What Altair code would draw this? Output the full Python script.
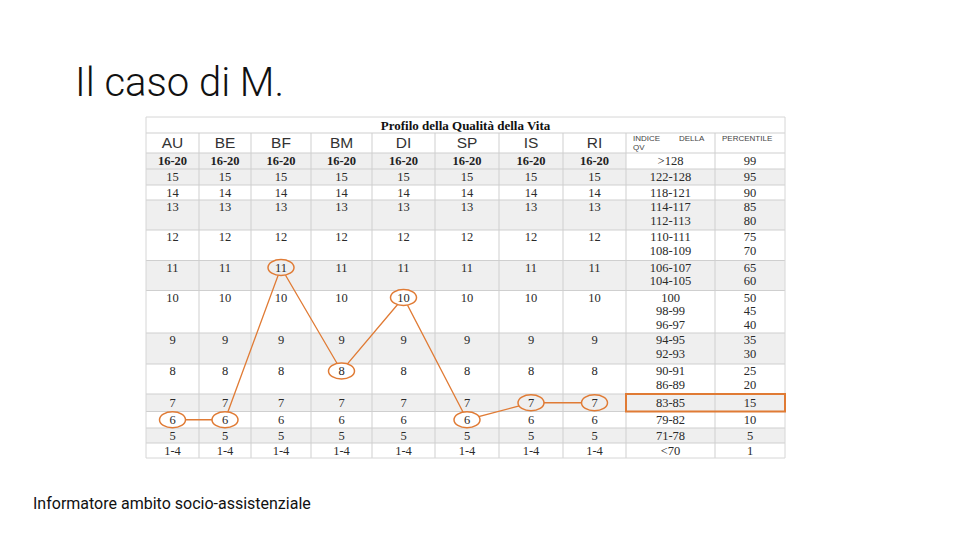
import altair as alt
import pandas as pd

# ---------------- data ----------------
dims = ["AU", "BE", "BF", "BM", "DI", "SP", "IS", "RI"]
score_labels = ["16-20", "15", "14", "13", "12", "11", "10", "9", "8", "7", "6", "5", "1-4"]
indice = [[">128"], ["122-128"], ["118-121"], ["114-117", "112-113"], ["110-111", "108-109"],
          ["106-107", "104-105"], ["100", "98-99", "96-97"], ["94-95", "92-93"], ["90-91", "86-89"],
          ["83-85"], ["79-82"], ["71-78"], ["<70"]]
percentile = [["99"], ["95"], ["90"], ["85", "80"], ["75", "70"], ["65", "60"], ["50", "45", "40"],
              ["35", "30"], ["25", "20"], ["15"], ["10"], ["5"], ["1"]]
profile_m = ["6", "6", "11", "8", "10", "6", "7", "7"]
highlight_row = "7"

slide_title = "Il caso di M."
table_title = "Profilo della Qualità della Vita"
footer_text = "Informatore ambito socio-assistenziale"
head_indice = ["INDICE", "DELLA", "QV"]
head_percentile = "PERCENTILE"

# ---------------- layout ----------------
col_edges = [146, 199, 251, 311, 372, 435, 499, 563, 626, 715, 785]
table_top, title_bottom, header_bottom = 117, 133, 153
row_heights = [16, 16, 15, 30, 30.5, 30, 42.5, 31, 30, 17.5, 16.5, 15, 15]
grey_rows = [True, True, False, True, False, True, False, True, False, True, False, True, False]
GREY, WHITE, GRID, ORANGE = "#efefef", "#ffffff", "#cfcfcf", "#e07b35"

row_tops = []
t = header_bottom
for h in row_heights:
    row_tops.append(t)
    t += h
table_bottom = t


def line_y(i, k, n):
    top, h = row_tops[i], row_heights[i]
    return top + h / 2 if n == 1 else top + 7 + 13.5 * k


col_center = [(col_edges[j] + col_edges[j + 1]) / 2 for j in range(len(col_edges) - 1)]

# backgrounds
bg = []
for i, h in enumerate(row_heights):
    if grey_rows[i]:
        right = col_edges[8] if i == 0 else col_edges[10]
        bg.append(dict(x=col_edges[0], x2=right, y=row_tops[i], y2=row_tops[i] + h, fill=GREY))
bg_df = pd.DataFrame(bg)

# grid lines
hl = [dict(x=col_edges[0], x2=col_edges[-1], y=v, y2=v) for v in [title_bottom, header_bottom] + row_tops[1:]]
vl = [dict(x=e, x2=e, y=title_bottom, y2=table_bottom) for e in col_edges[1:-1]]
grid_df = pd.DataFrame(hl + vl)
border_df = pd.DataFrame([dict(x=col_edges[0], x2=col_edges[-1], y=table_top, y2=table_bottom)])

# texts
num_rows = []
for i, lab in enumerate(score_labels):
    nl = 1 if row_heights[i] < 20 else 2
    for j in range(len(dims)):
        num_rows.append(dict(x=col_center[j], y=line_y(i, 0, nl), t=lab, b=(i == 0)))
    n = len(indice[i])
    for k in range(n):
        num_rows.append(dict(x=col_center[8], y=line_y(i, k, n), t=indice[i][k], b=False))
        num_rows.append(dict(x=col_center[9], y=line_y(i, k, n), t=percentile[i][k], b=False))
num_df = pd.DataFrame(num_rows)
num_plain = num_df[~num_df.b].drop(columns="b")
num_bold = num_df[num_df.b].drop(columns="b")

head_df = pd.DataFrame([dict(x=col_center[j], y=(title_bottom + header_bottom) / 2, t=d) for j, d in enumerate(dims)])
small_df = pd.DataFrame([
    dict(x=col_edges[8] + 7, y=139, t=head_indice[0]),
    dict(x=col_edges[8] + 53, y=139, t=head_indice[1]),
    dict(x=col_edges[8] + 7, y=148, t=head_indice[2]),
    dict(x=col_edges[9] + 7, y=139, t=head_percentile),
])
ttl_df = pd.DataFrame([dict(x=(col_edges[0] + col_edges[-1]) / 2, y=(table_top + title_bottom) / 2 + 1, t=table_title)])

# profile of M.
prof = []
for j, v in enumerate(profile_m):
    i = score_labels.index(v)
    nl = 1 if row_heights[i] < 20 else 2
    prof.append(dict(x=col_center[j], y=line_y(i, 0, nl), o=j, t=v,
                     fill=GREY if grey_rows[i] else WHITE))
prof_df = pd.DataFrame(prof)
hi = score_labels.index(highlight_row)
hbox_df = pd.DataFrame([dict(x=col_edges[8], x2=col_edges[10], y=row_tops[hi], y2=row_tops[hi] + row_heights[hi])])

slide_df = pd.DataFrame([dict(x=75, y=96, t=slide_title)])
foot_df = pd.DataFrame([dict(x=33, y=509, t=footer_text)])

# ---------------- chart ----------------
xs = alt.Scale(domain=[8, 952], nice=False, zero=False)
ys = alt.Scale(domain=[8, 532], nice=False, zero=False, reverse=True)
X = alt.X("x:Q", scale=xs, axis=None)
Y = alt.Y("y:Q", scale=ys, axis=None)

bg_layer = alt.Chart(bg_df).mark_rect().encode(X, alt.X2("x2:Q"), Y, alt.Y2("y2:Q"),
                                               fill=alt.Fill("fill:N", scale=None))
grid_layer = alt.Chart(grid_df).mark_rule(color=GRID, strokeWidth=1).encode(X, alt.X2("x2:Q"), Y, alt.Y2("y2:Q"))
border_layer = alt.Chart(border_df).mark_rect(fill=None, stroke="#d6d6d6", strokeWidth=1).encode(
    X, alt.X2("x2:Q"), Y, alt.Y2("y2:Q"))

num_layer = alt.Chart(num_plain).mark_text(font="Liberation Serif", fontSize=12.5, color="#2a2a2a",
                                           baseline="middle").encode(X, Y, text="t:N")
numb_layer = alt.Chart(num_bold).mark_text(font="Liberation Serif", fontSize=12.5, color="#222",
                                           fontWeight="bold", baseline="middle").encode(X, Y, text="t:N")
head_layer = alt.Chart(head_df).mark_text(font="Liberation Sans", fontSize=15.5, color="#333",
                                          baseline="middle").encode(X, Y, text="t:N")
small_layer = alt.Chart(small_df).mark_text(font="Liberation Sans", fontSize=8, color="#444",
                                            baseline="middle", align="left").encode(X, Y, text="t:N")
ttl_layer = alt.Chart(ttl_df).mark_text(font="Liberation Serif", fontSize=13, fontWeight="bold", color="#111",
                                        baseline="middle").encode(X, Y, text="t:N")

line_layer = alt.Chart(prof_df).mark_line(color=ORANGE, strokeWidth=1.3).encode(X, Y, order="o:Q")
ell_layer = alt.Chart(prof_df).mark_point(
    shape="M-1,0A1,0.62,0,1,1,1,0A1,0.62,0,1,1,-1,0Z", size=26 * 26, filled=True,
    stroke=ORANGE, strokeWidth=1.5, opacity=1).encode(X, Y, fill=alt.Fill("fill:N", scale=None))
prof_text = alt.Chart(prof_df).mark_text(
    font="Liberation Serif", fontSize=12.5, color="#2a2a2a", baseline="middle").encode(X, Y, text="t:N")
hbox_layer = alt.Chart(hbox_df).mark_rect(fill=None, stroke=ORANGE, strokeWidth=2).encode(
    X, alt.X2("x2:Q"), Y, alt.Y2("y2:Q"))

slide_layer = alt.Chart(slide_df).mark_text(font="Roboto", fontSize=40, fontWeight=300, color="#111",
                                            align="left", baseline="alphabetic").encode(X, Y, text="t:N")
foot_layer = alt.Chart(foot_df).mark_text(font="Roboto", fontSize=16, color="#111",
                                          align="left", baseline="alphabetic").encode(X, Y, text="t:N")

chart = alt.layer(
    bg_layer, grid_layer, border_layer, num_layer, numb_layer, head_layer, small_layer, ttl_layer,
    line_layer, ell_layer, prof_text, hbox_layer, slide_layer, foot_layer
).properties(
    width=944, height=524, padding=0,
    autosize=alt.AutoSizeParams(type="fit", contains="padding"),
    background="white",
).configure_view(stroke=None)

chart.save("out.html", embed_options={"renderer": "svg", "actions": False})
